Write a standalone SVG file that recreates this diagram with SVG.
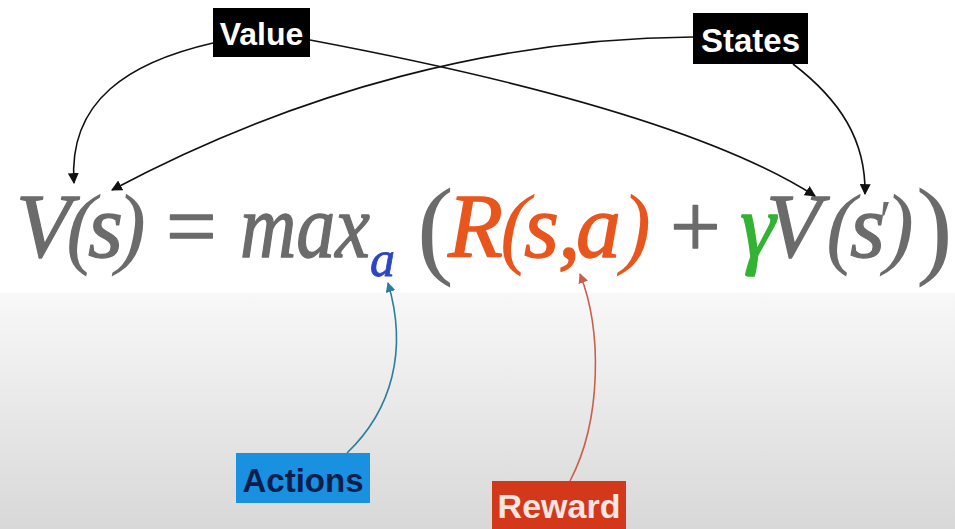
<svg xmlns="http://www.w3.org/2000/svg" width="955" height="529" viewBox="0 0 955 529">
<defs>
<linearGradient id="bg" x1="0" y1="0" x2="0" y2="1">
<stop offset="0" stop-color="#f8f8f8"/>
<stop offset="1" stop-color="#d8d8d8"/>
</linearGradient>
<marker id="ak" viewBox="0 0 10 10" refX="9" refY="5" markerWidth="11" markerHeight="11" markerUnits="userSpaceOnUse" orient="auto"><path d="M0,0 L10,5 L0,10 z" fill="#111"/></marker>
<marker id="ab" viewBox="0 0 10 10" refX="9" refY="5" markerWidth="10" markerHeight="10" markerUnits="userSpaceOnUse" orient="auto"><path d="M0,0 L10,5 L0,10 z" fill="#2a7d9c"/></marker>
<marker id="ar" viewBox="0 0 10 10" refX="9" refY="5" markerWidth="10" markerHeight="10" markerUnits="userSpaceOnUse" orient="auto"><path d="M0,0 L10,5 L0,10 z" fill="#c8604c"/></marker>
</defs>
<style>
.lbl{font-family:"Liberation Sans",Arial,sans-serif;font-weight:bold;text-anchor:middle}
.eq{font-family:"Liberation Serif","Times New Roman",serif;font-style:italic;font-size:90px;stroke-width:1.3px;stroke-linejoin:round}
.g{fill:#6b6b6b;stroke:#6b6b6b}
.o{fill:#e8561e;stroke:#e8561e}
.p{stroke-width:0}
.up{font-style:normal}
.big{font-size:110px;font-style:normal;stroke-width:0}
.c{fill:none;stroke-width:1.6}
</style>
<rect x="0" y="0" width="955" height="529" fill="#ffffff"/>
<rect x="0" y="293" width="955" height="236" fill="url(#bg)"/>

<g id="equation">
<text class="eq"><tspan class="g" x="16" y="257">V</tspan><tspan class="g p" x="66">(</tspan><tspan class="g" x="88">s</tspan><tspan class="g p" x="116">)</tspan><tspan class="g up" x="166">=</tspan><tspan class="g" x="240" textLength="130" lengthAdjust="spacingAndGlyphs">max</tspan><tspan x="370" y="276" style="font-size:50px;fill:#2b46c4;stroke:#2b46c4;stroke-width:0.8px">a</tspan><tspan class="g big" x="417" y="264">(</tspan><tspan class="o" x="448" y="257">R</tspan><tspan class="o p" x="500">(</tspan><tspan class="o" x="524">s</tspan><tspan class="o" x="558">,</tspan><tspan class="o" x="576">a</tspan><tspan class="o p" x="621">)</tspan><tspan class="g up" x="670">+</tspan><tspan x="740" style="fill:#33b233;stroke:#33b233">γ</tspan><tspan class="g" x="766">V</tspan><tspan class="g p" x="826">(</tspan><tspan class="g" x="850">s</tspan><tspan class="g p" x="876" y="240" style="font-size:56px">′</tspan><tspan class="g p" x="884" y="257">)</tspan><tspan class="g big" x="916" y="264">)</tspan></text>
</g>

<g id="connectors">
<path class="c" stroke="#111" d="M213,43 C130,62 68,100 74,183" marker-end="url(#ak)"/>
<path class="c" stroke="#111" d="M693,37 C500,38 300,90 112,190" marker-end="url(#ak)"/>
<path class="c" stroke="#111" d="M310,40 C480,72 700,122 815,196" marker-end="url(#ak)"/>
<path class="c" stroke="#111" d="M793,64 C840,100 866,140 865,194" marker-end="url(#ak)"/>
<path class="c" stroke="#2a7d9c" d="M347,453 C392,410 408,350 388,283" marker-end="url(#ab)"/>
<path class="c" stroke="#c8604c" d="M570,481 C602,420 602,330 580,274" marker-end="url(#ar)"/>
</g>

<g id="value">
<rect x="213" y="8" width="97" height="49" fill="#000"/>
<text class="lbl" x="261.5" y="45" font-size="32" fill="#fff">Value</text>
</g>
<g id="states">
<rect x="693" y="13" width="115" height="51" fill="#000"/>
<text class="lbl" x="750.5" y="52" font-size="33" fill="#fff">States</text>
</g>
<g id="actions">
<rect x="236" y="453" width="134" height="50" fill="#1a90e0"/>
<text class="lbl" x="303" y="492" font-size="33" fill="#0b1f4f">Actions</text>
</g>
<g id="reward">
<rect x="492" y="481" width="134" height="50" fill="#d4381a"/>
<text class="lbl" x="559" y="518" font-size="34" fill="#f4e6e2">Reward</text>
</g>
</svg>
